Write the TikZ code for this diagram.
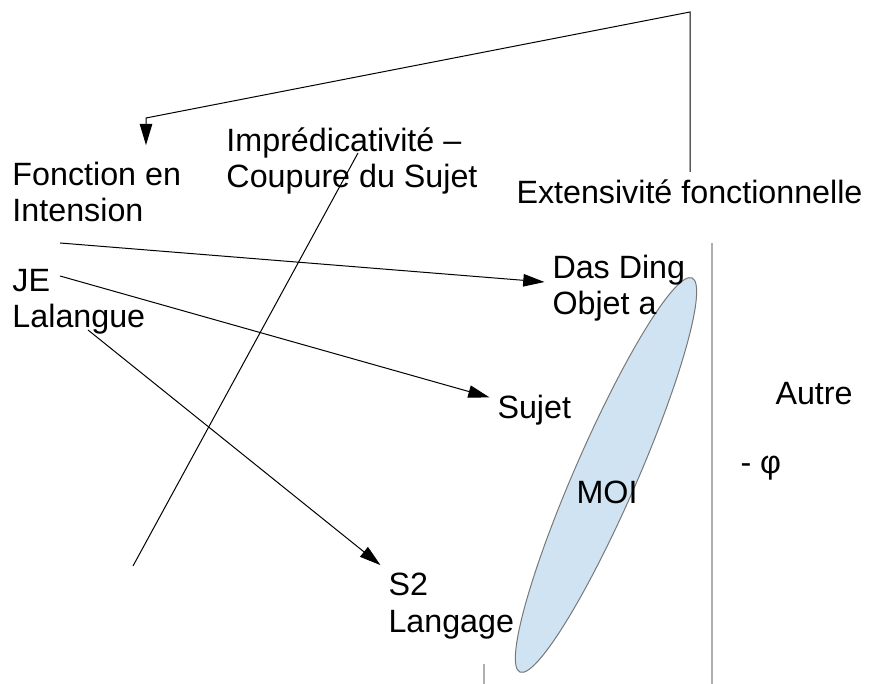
\documentclass[tikz,border=0pt]{standalone}
\usepackage{fontspec}
\setmainfont{Liberation Sans}
\usetikzlibrary{arrows.meta}
\usetikzlibrary{shapes.geometric, positioning}
\definecolor{moiblue}{RGB}{207,227,242}
\definecolor{moiedge}{RGB}{120,120,120}
\definecolor{sepgray}{RGB}{175,175,175}
\tikzset{
    txt/.style={inner sep=3pt, anchor=west, align=left, font=\fontsize{12.9}{14.6}\selectfont},
    sepline/.style={draw=sepgray, line width=0.6pt},
}

\begin{document}
\begin{tikzpicture}[x=0.4pt, y=-0.4pt, >={Triangle[length=8.5pt,width=5pt]}]
    \useasboundingbox (0,0) rectangle (869,684);

    % Separators
    \coordinate (septop) at (712,243);
    \coordinate (sepbot) at (712,684);
    \coordinate (stubtop) at (484,664);
    \coordinate (stubbot) at (484,684);
    \draw[sepline] (septop) -- (sepbot);
    \draw[sepline] (stubtop) -- (stubbot);

    % MOI ellipse
    \node[ellipse, draw=moiedge, fill=moiblue, minimum width=172pt, minimum height=24.8pt, rotate=66.4] (moishape) at (606,475) {};

    % Labels
    \node[txt] (fonction) at (4.5,192) {Fonction en\\Intension};
    \node[txt] (impred) at (218.5,161) {Imprédicativité –\\Coupure du Sujet};
    \node[txt] (extens) at (508.5,192) {Extensivité fonctionnelle};
    \node[txt] (je) at (4.5,302) {JE\\Lalangue};
    \node[txt] (dasding) at (544.5,288) {Das Ding\\Objet a};
    \node[txt] (sujet) at (489.5,410) {Sujet};
    \node[txt] (autre) at (767.5,394) {Autre};
    \node[txt] (phi) at (732.5,468) {- φ};
    \node[txt, anchor=center] (moi) at (607,492) {MOI};
    \node[txt] (s2) at (380.5,606) {S2\\Langage};

    % Relationships
    \coordinate (topcorner) at (690,12);
    \coordinate (bend) at (146,118);
    \draw[->, shorten >=3.5pt] (topcorner |- extens.north) -- (topcorner) -- (bend) -- (bend |- fonction.north);

    \coordinate (fonctionout) at (60,243);
    \coordinate (jeout) at (60,276);
    \coordinate (lalangueout) at (88,330);
    \draw[->] (fonctionout) -- (dasding);
    \draw[->] (jeout) -- (sujet);
    \draw[->] (lalangueout) -- (s2.north west);

    % Cut
    \coordinate (cutlow) at (133,566);
    \coordinate (cuthigh) at (358,153);
    \draw (cutlow) -- (cuthigh);

\end{tikzpicture}
\end{document}
